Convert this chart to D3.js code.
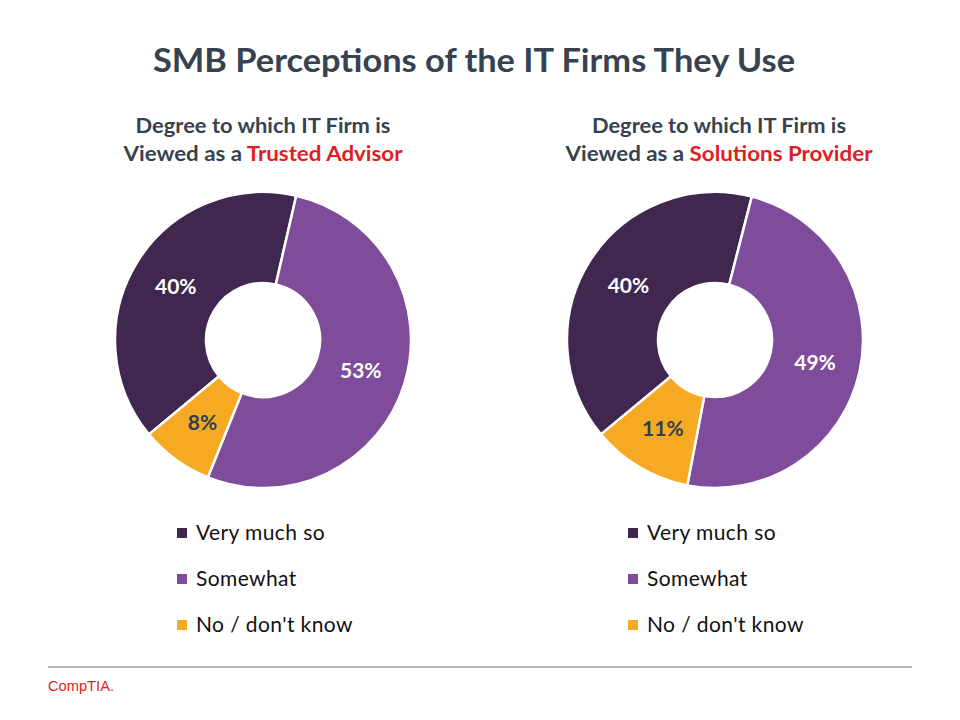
<!DOCTYPE html>
<html><head><meta charset="utf-8">
<script src="https://cdn.jsdelivr.net/npm/d3@7"></script>
<style>html,body{margin:0;padding:0;background:#fff;}</style>
</head><body>
<svg id="chart" width="960" height="720"></svg>
<script>
const categories = ["Very much so", "Somewhat", "No / don't know"];
const trustedAdvisor = [40, 53, 8];
const solutionsProvider = [40, 49, 11];
const colors = ["#3F274F", "#7E4C9B", "#F6A923"];
const labelColors = ["#ffffff", "#ffffff", "#333F4F"];
const titleText = "SMB Perceptions of the IT Firms They Use";
const subtitleLine1 = "Degree to which IT Firm is";
const subtitlePrefix = "Viewed as a ";
const subtitleHighlights = ["Trusted Advisor", "Solutions Provider"];

const svg = d3.select("#chart");
const FONT = "Lato, 'Open Sans', sans-serif";
const DARK = "#36424F";

svg.append("text").attr("x", 474).attr("y", 72).attr("text-anchor", "middle")
  .attr("font-family", FONT).attr("font-weight", 700).attr("font-size", 32)
  .attr("fill", DARK).attr("textLength", 642).attr("lengthAdjust", "spacingAndGlyphs")
  .text(titleText);

const pie = d3.pie().sort(null).value(d => d)
  .startAngle(230.4 * Math.PI / 180).endAngle((230.4 + 360) * Math.PI / 180);
const rOuter = 148, rInner = 57;
const arc = d3.arc().innerRadius(rInner).outerRadius(rOuter);
const labelArc = d3.arc().innerRadius(rInner).outerRadius(rOuter);

const panels = [
  {data: trustedAdvisor, cx: 263, tcx: 263, hl: subtitleHighlights[0], l1w: 255, l2w: 279, lx: 177},
  {data: solutionsProvider, cx: 715, tcx: 719, hl: subtitleHighlights[1], l1w: 254, l2w: 307, lx: 628}
];

panels.forEach(p => {
  const g = svg.append("g");
  g.append("text").attr("x", p.tcx).attr("y", 133).attr("text-anchor", "middle")
    .attr("font-family", FONT).attr("font-weight", 700).attr("font-size", 20)
    .attr("fill", DARK).attr("textLength", p.l1w).attr("lengthAdjust", "spacingAndGlyphs")
    .text(subtitleLine1);
  const t2 = g.append("text").attr("x", p.tcx).attr("y", 161).attr("text-anchor", "middle")
    .attr("font-family", FONT).attr("font-weight", 700).attr("font-size", 20)
    .attr("textLength", p.l2w).attr("lengthAdjust", "spacingAndGlyphs");
  t2.append("tspan").attr("fill", DARK).text(subtitlePrefix);
  t2.append("tspan").attr("fill", "#E31B23").text(p.hl);

  const pg = g.append("g").attr("transform", `translate(${p.cx},340)`);
  const arcs = pie(p.data);
  pg.selectAll("path").data(arcs).join("path")
    .attr("d", arc).attr("fill", (d, i) => colors[i])
    .attr("stroke", "#fff").attr("stroke-width", 2.5);
  pg.selectAll("text").data(arcs).join("text")
    .attr("transform", d => `translate(${labelArc.centroid(d)})`)
    .attr("text-anchor", "middle").attr("dy", "0.36em")
    .attr("font-family", FONT).attr("font-weight", 700).attr("font-size", 21)
    .attr("fill", (d, i) => labelColors[i])
    .text(d => d.data + "%");

  const lg = g.append("g");
  const ly = d3.scalePoint().domain(categories).range([533, 625]);
  categories.forEach((c, i) => {
    lg.append("rect").attr("x", p.lx).attr("y", ly(c) - 5).attr("width", 10).attr("height", 10)
      .attr("fill", colors[i]);
    lg.append("text").attr("x", p.lx + 19).attr("y", ly(c)).attr("dy", "0.35em")
      .attr("font-family", FONT).attr("font-size", 21).attr("letter-spacing", 0.4).attr("fill", "#111")
      .text(c);
  });
});

svg.append("line").attr("x1", 48).attr("x2", 912).attr("y1", 667).attr("y2", 667)
  .attr("stroke", "#6d6e71").attr("stroke-width", 1.2);
svg.append("text").attr("x", 48).attr("y", 691)
  .attr("font-family", "'Liberation Sans Narrow', Arial, sans-serif").attr("font-size", 14)
  .attr("fill", "#E31B23").attr("textLength", 66).attr("lengthAdjust", "spacingAndGlyphs")
  .text("CompTIA.");
</script>
</body></html>
